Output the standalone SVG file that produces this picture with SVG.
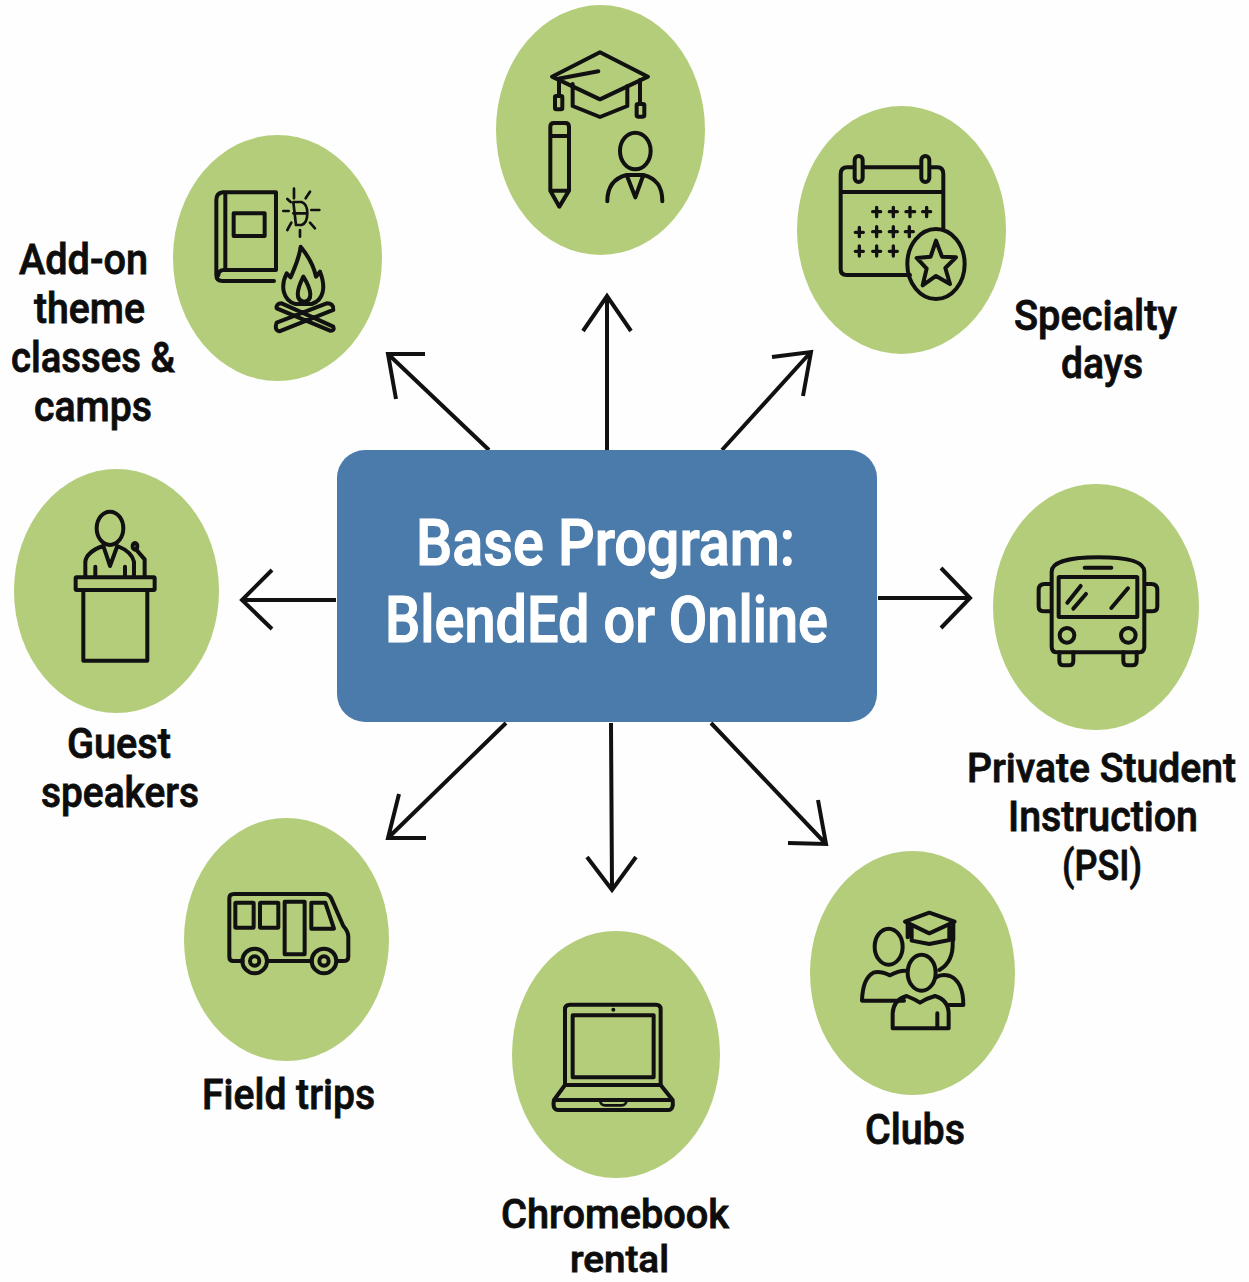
<svg xmlns="http://www.w3.org/2000/svg" width="1249" height="1282" viewBox="0 0 1249 1282">
<style>
.c{fill:#b4cd7b}
.i{fill:none;stroke:#111;stroke-width:12;stroke-linecap:round;stroke-linejoin:round}
.i .t{stroke-width:8}
.f{fill:#111;stroke:none}
.l{font-family:Roboto,"Liberation Sans",sans-serif;font-weight:500;font-size:42px;fill:#0d0d0d;stroke:#0d0d0d;stroke-width:.8}
.h{font-family:Roboto,"Liberation Sans",sans-serif;font-weight:500;font-size:65px;fill:#fff;stroke:#fff;stroke-width:1.2}
.a{fill:none;stroke:#111;stroke-width:4}
</style>
<rect width="1249" height="1282" fill="#fefefe"/>
<g id="connectors" class="a">
<path d="M607 450V296M583 331L607 296L631 331"/>
<path d="M489 450L388 354M425 354H388L396 399"/>
<path d="M722 450L810 353M772 357L811 352L803 396"/>
<path d="M336 600H242M272 570L242 600L272 629"/>
<path d="M878 598H970M941 568L970 598L941 628"/>
<path d="M506 723L388 838M399 794L388 838H426"/>
<path d="M611 723L612 890M587 857L612 890L636 857"/>
<path d="M711 723L826 844M818 800L826 844L788 843"/>
</g>
<g id="center">
<rect x="337" y="450" width="540" height="272" rx="28" fill="#4a7bab"/>
<text class="h" x="416" y="565" textLength="379" lengthAdjust="spacingAndGlyphs">Base Program:</text>
<text class="h" x="385" y="642" textLength="443" lengthAdjust="spacingAndGlyphs">BlendEd or Online</text>
</g>
<g id="node-top">
<ellipse class="c" cx="600.5" cy="130" rx="104.5" ry="125"/>
<g class="i" transform="translate(490 0) scale(.3333)">
<path d="M330 157L474 230L330 298L186 230Z"/>
<path d="M248 252V318L330 351L412 318V258"/>
<path d="M205 236L325 214M207 240V288M450 240V312"/>
<rect x="195" y="288" width="22" height="40" rx="4"/>
<rect x="440" y="312" width="23" height="38" rx="4"/>
<path d="M181 380Q181 369 192 369H226Q237 369 237 380V572L208 620L181 572ZM181 408H237M181 572H237"/>
<ellipse cx="436" cy="453" rx="46" ry="55"/>
<path d="M352 604C352 560 370 535 410 525L436 592L460 525C500 535 517 560 517 604M410 525H460"/>
</g>
</g>
<g id="node-addon">
<ellipse class="c" cx="277.5" cy="258" rx="104.5" ry="123"/>
<g class="i" transform="translate(170 130) scale(.3333)">
<path d="M318 187H158Q139 190 139 210V435Q139 453 158 453H312M166 187V420M318 187V420H160Q145 422 145 436"/>
<rect x="191" y="250" width="93" height="68"/>
<g class="t">
<path d="M372 176V205M420 185L407 205M424 240H448M420 278L435 295M390 300V320M352 300L364 278M340 243H356M352 207L362 216"/>
<path d="M370 216H395Q412 222 412 250Q412 280 395 285H378ZM370 250H412"/>
</g>
<path d="M392 350C420 385 432 410 438 440L450 425C468 470 462 510 425 522H375C340 510 330 470 350 430L362 442C375 410 388 385 392 350Z"/>
<path d="M400 440C380 480 375 512 402 515C430 512 425 480 400 440Z"/>
<path d="M335 520L490 590Q495 603 480 602L320 535Q318 520 335 520ZM470 520L320 578Q312 600 328 604L490 540Q492 520 470 520Z"/>
</g>
</g>
<g id="node-specialty">
<ellipse class="c" cx="901.5" cy="230" rx="104.5" ry="124"/>
<g class="i" transform="translate(800 110) scale(.3333)">
<path d="M330 495H140Q122 495 122 477V192Q122 172 142 172H162M190 172H362M390 172H412Q430 172 430 192V360M122 246H430"/>
<rect x="164" y="138" width="24" height="78" rx="12"/>
<rect x="364" y="138" width="24" height="78" rx="12"/>
<ellipse cx="408" cy="462" rx="86" ry="105"/>
<path d="M408 392L426 440L468 442L436 474L450 522L408 498L368 526L380 476L350 444L392 440Z"/>
<path stroke-width="10" d="M218 305H242M230 292V320M268 305H292M280 292V320M318 305H344M330 292V320M368 305H392M380 292V320M166 367H190M178 352V380M218 365H242M230 350V380M268 365H292M280 350V380M316 365H340M328 350V380M166 424H190M178 408V438M218 424H242M230 408V438M268 424H292M280 408V438"/>
</g>
</g>
<g id="node-guest">
<ellipse class="c" cx="116.5" cy="591" rx="102.5" ry="122"/>
<g class="i" transform="translate(10 470) scale(.3333)">
<ellipse cx="300" cy="175" rx="40" ry="50"/>
<path d="M226 320V275Q230 245 280 228L300 288L322 228Q365 245 372 275V320M256 290V320M345 290V320"/>
<rect x="197" y="322" width="237" height="38" rx="3"/>
<path d="M220 360V572H412V360"/>
<path d="M404 320V268L378 238"/>
<ellipse cx="375" cy="229" rx="7" ry="10"/>
</g>
</g>
<g id="node-psi">
<ellipse class="c" cx="1096" cy="607" rx="103" ry="123"/>
<g class="i" transform="translate(990 490) scale(.3333)">
<path d="M185 470V245C185 215 240 202 325 202C410 202 463 215 463 245V470Q463 487 445 487H203Q185 487 185 470Z"/>
<path d="M284 233H364"/>
<rect x="206" y="261" width="236" height="120" rx="2"/>
<path d="M232 338L272 288M250 356L288 312M364 354L414 295"/>
<path d="M183 282H164Q146 282 146 300V350Q146 364 164 364H183M466 282H484Q502 282 502 300V350Q502 364 484 364H466"/>
<circle cx="231" cy="436" r="22"/>
<circle cx="415" cy="436" r="22"/>
<path d="M208 487V512Q208 526 222 526H236Q250 526 250 512V487M400 487V512Q400 526 414 526H426Q440 526 440 512V487"/>
</g>
</g>
<g id="node-field">
<ellipse class="c" cx="286.5" cy="939.5" rx="102.5" ry="121.5"/>
<g class="i" transform="translate(180 820) scale(.3333)">
<path d="M188 423H160Q148 423 148 410V235Q148 222 162 222H435Q448 222 455 238L490 318Q505 335 505 350V410Q505 423 490 423H470M262 423H395"/>
<rect x="166" y="248" width="55" height="75" rx="2"/>
<rect x="240" y="248" width="55" height="75" rx="2"/>
<rect x="314" y="245" width="60" height="158"/>
<path d="M394 248H436L462 326H394Z"/>
<circle cx="224" cy="423" r="37"/>
<circle cx="224" cy="423" r="14"/>
<circle cx="432" cy="423" r="37"/>
<circle cx="432" cy="423" r="14"/>
</g>
</g>
<g id="node-clubs">
<ellipse class="c" cx="912.5" cy="973" rx="102.5" ry="122"/>
<g class="i" transform="translate(810 850) scale(.3333)">
<ellipse cx="236" cy="290" rx="42" ry="54"/>
<path d="M285 362Q265 362 240 376Q210 362 190 368Q158 385 156 452H282"/>
<path d="M285 215L358 188L434 215L358 250Z"/>
<path d="M305 230V272L358 282L418 270V228M293 222V262M430 222V270"/>
<path d="M428 275C430 320 415 345 388 360"/>
<path d="M378 382Q395 370 420 378Q460 395 460 465H412"/>
<ellipse cx="335" cy="368" rx="42" ry="54"/>
<path d="M248 535V490Q250 450 290 438Q315 448 330 458Q350 445 375 438Q415 450 416 490V535ZM382 490V535"/>
</g>
</g>
<g id="node-chromebook">
<ellipse class="c" cx="616" cy="1054.5" rx="104" ry="123.5"/>
<g class="i" transform="translate(510 930) scale(.3333)">
<path d="M165 465V238Q165 224 180 224H438Q452 224 452 238V465"/>
<rect x="188" y="256" width="243" height="186"/>
<path d="M165 465H452L488 510Q492 540 475 540H145Q126 540 132 510L165 465ZM132 510H488"/>
<path class="t" d="M270 512Q272 526 285 526H335Q348 526 350 512"/>
<circle class="f" cx="310" cy="239" r="6"/>
</g>
</g>
<g id="labels">
<text class="l" x="19" y="274" textLength="129" lengthAdjust="spacingAndGlyphs">Add-on</text>
<text class="l" x="34" y="323" textLength="111" lengthAdjust="spacingAndGlyphs">theme</text>
<text class="l" x="11" y="372" textLength="164" lengthAdjust="spacingAndGlyphs">classes &amp;</text>
<text class="l" x="34" y="421" textLength="118" lengthAdjust="spacingAndGlyphs">camps</text>
<text class="l" x="1014" y="330" textLength="163" lengthAdjust="spacingAndGlyphs">Specialty</text>
<text class="l" x="1061" y="378" textLength="82" lengthAdjust="spacingAndGlyphs">days</text>
<text class="l" x="67" y="758" textLength="104" lengthAdjust="spacingAndGlyphs">Guest</text>
<text class="l" x="41" y="807" textLength="158" lengthAdjust="spacingAndGlyphs">speakers</text>
<text class="l" x="967" y="782" style="font-size:40px" textLength="269" lengthAdjust="spacingAndGlyphs">Private Student</text>
<text class="l" x="1008" y="831" textLength="190" lengthAdjust="spacingAndGlyphs">Instruction</text>
<text class="l" x="1062" y="880" textLength="80" lengthAdjust="spacingAndGlyphs">(PSI)</text>
<text class="l" x="202" y="1109" textLength="173" lengthAdjust="spacingAndGlyphs">Field trips</text>
<text class="l" x="865" y="1144" textLength="100" lengthAdjust="spacingAndGlyphs">Clubs</text>
<text class="l" x="501" y="1228" style="font-size:40px" textLength="228" lengthAdjust="spacingAndGlyphs">Chromebook</text>
<text class="l" x="570" y="1272" style="font-size:37px" textLength="99" lengthAdjust="spacingAndGlyphs">rental</text>
</g>
</svg>
